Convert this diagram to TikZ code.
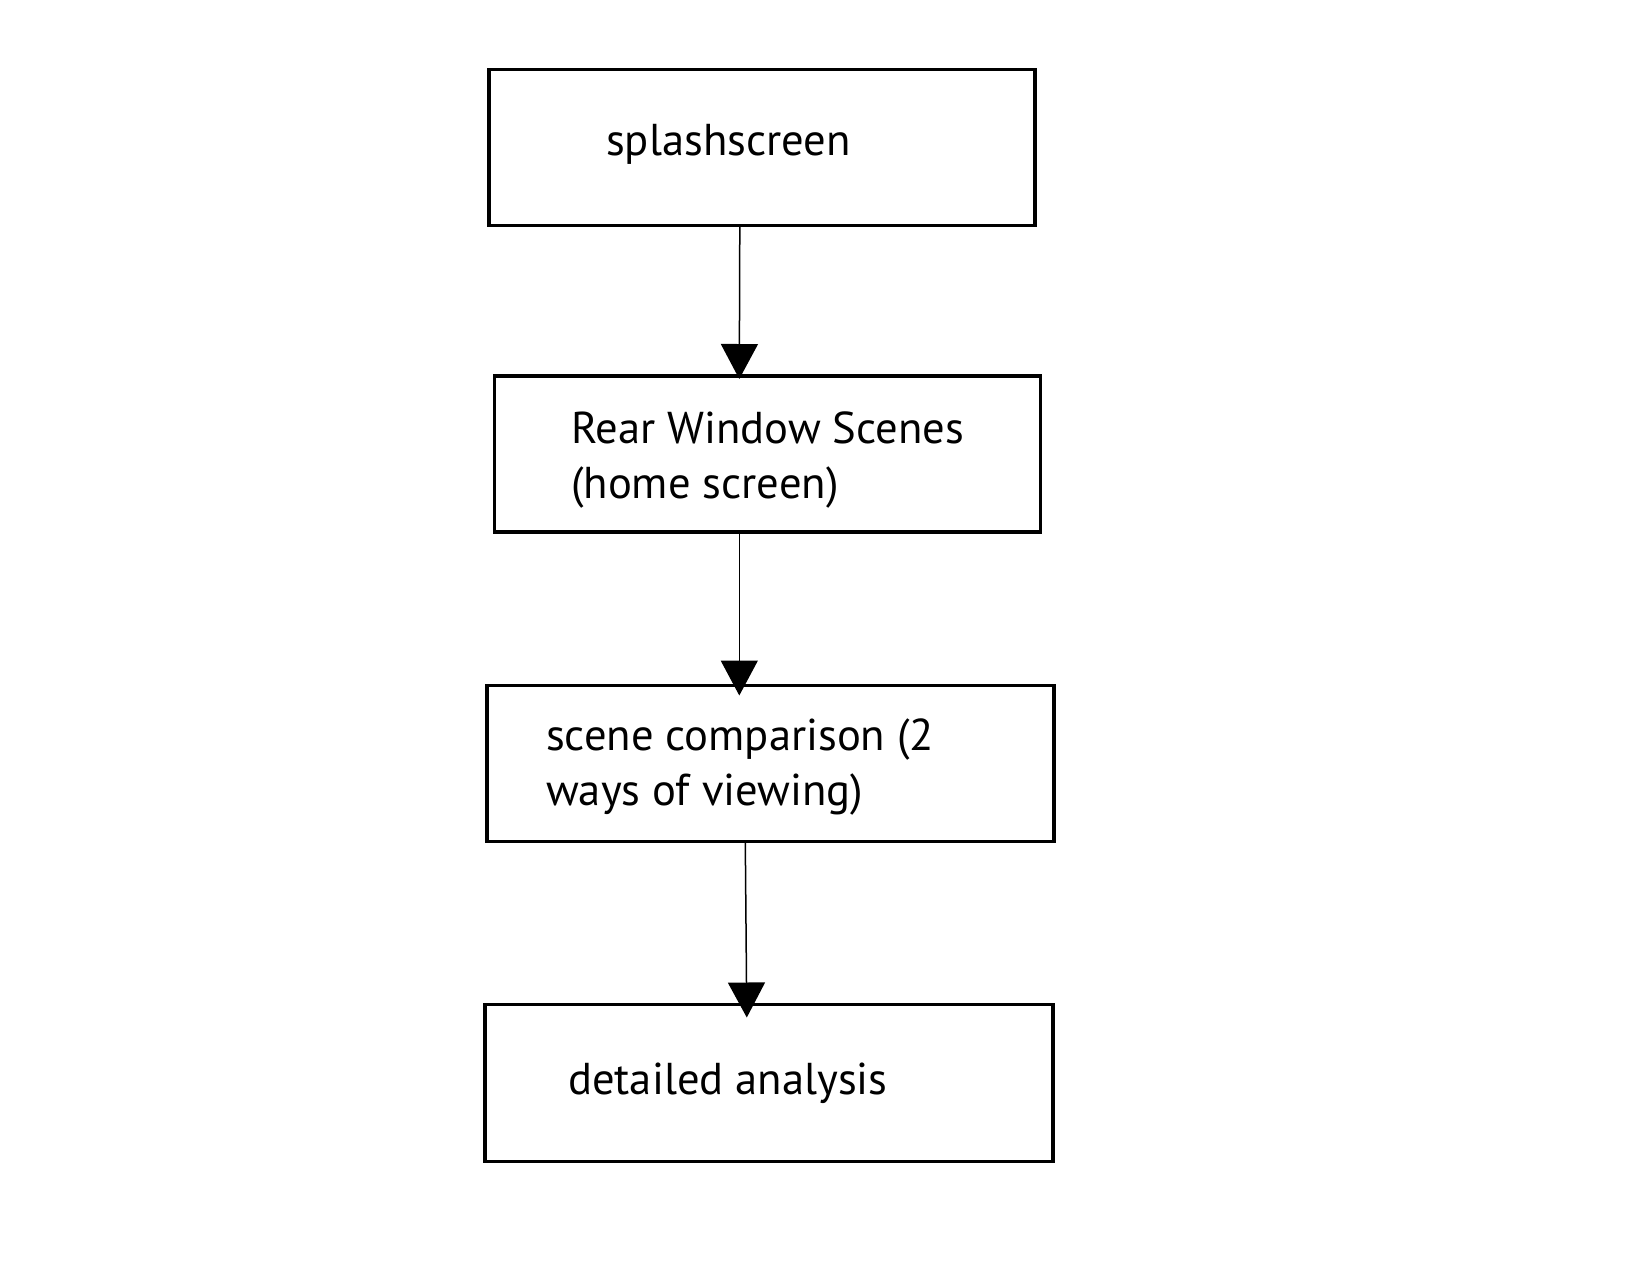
\documentclass[tikz,border=0pt]{standalone}
\usepackage{fontspec}
\setmainfont{PT Sans}
\usetikzlibrary{arrows.meta}
\begin{document}
\begin{tikzpicture}[x=1pt,y=-1pt,
  box/.style={draw=black, line width=3.6pt, rectangle, anchor=north west, inner sep=0pt},
  lbl/.style={anchor=base west, inner sep=0pt, font=\fontsize{44.6}{56}\selectfont, align=left},
  arr/.style={line width=1.5pt, -{Triangle[width=37pt,length=35pt]}}]
\useasboundingbox[fill=white] (0,0) rectangle (1650,1275);
\node[box, minimum width=546pt, minimum height=156pt] (b1) at (487,67.5) {};
\node[box, minimum width=546pt, minimum height=156pt] (b2) at (492.5,374) {};
\node[box, minimum width=567pt, minimum height=156pt] (b3) at (485,683.5) {};
\node[box, minimum width=568pt, minimum height=157pt] (b4) at (483,1002.5) {};
\node[lbl] (t1) at (606,155.7) {splashscreen};
\node[lbl] (t2a) at (571,443) {Rear Window Scenes};
\node[lbl] (t2b) at (571,498.8) {(home screen)};
\node[lbl] (t3a) at (546,750) {scene comparison (2};
\node[lbl] (t3b) at (546,805) {ways of viewing)};
\node[lbl] (t4) at (568,1094) {detailed analysis};
\draw[arr] ([xshift=-22pt]b1.south) -- ([xshift=-28pt,yshift=-5pt]b2.north);
\draw[arr] ([xshift=-28pt]b2.south) -- ([xshift=-31pt,yshift=-12pt]b3.north);
\draw[arr] ([xshift=-25pt]b3.south) -- ([xshift=-22pt,yshift=-15pt]b4.north);
\end{tikzpicture}
\end{document}
